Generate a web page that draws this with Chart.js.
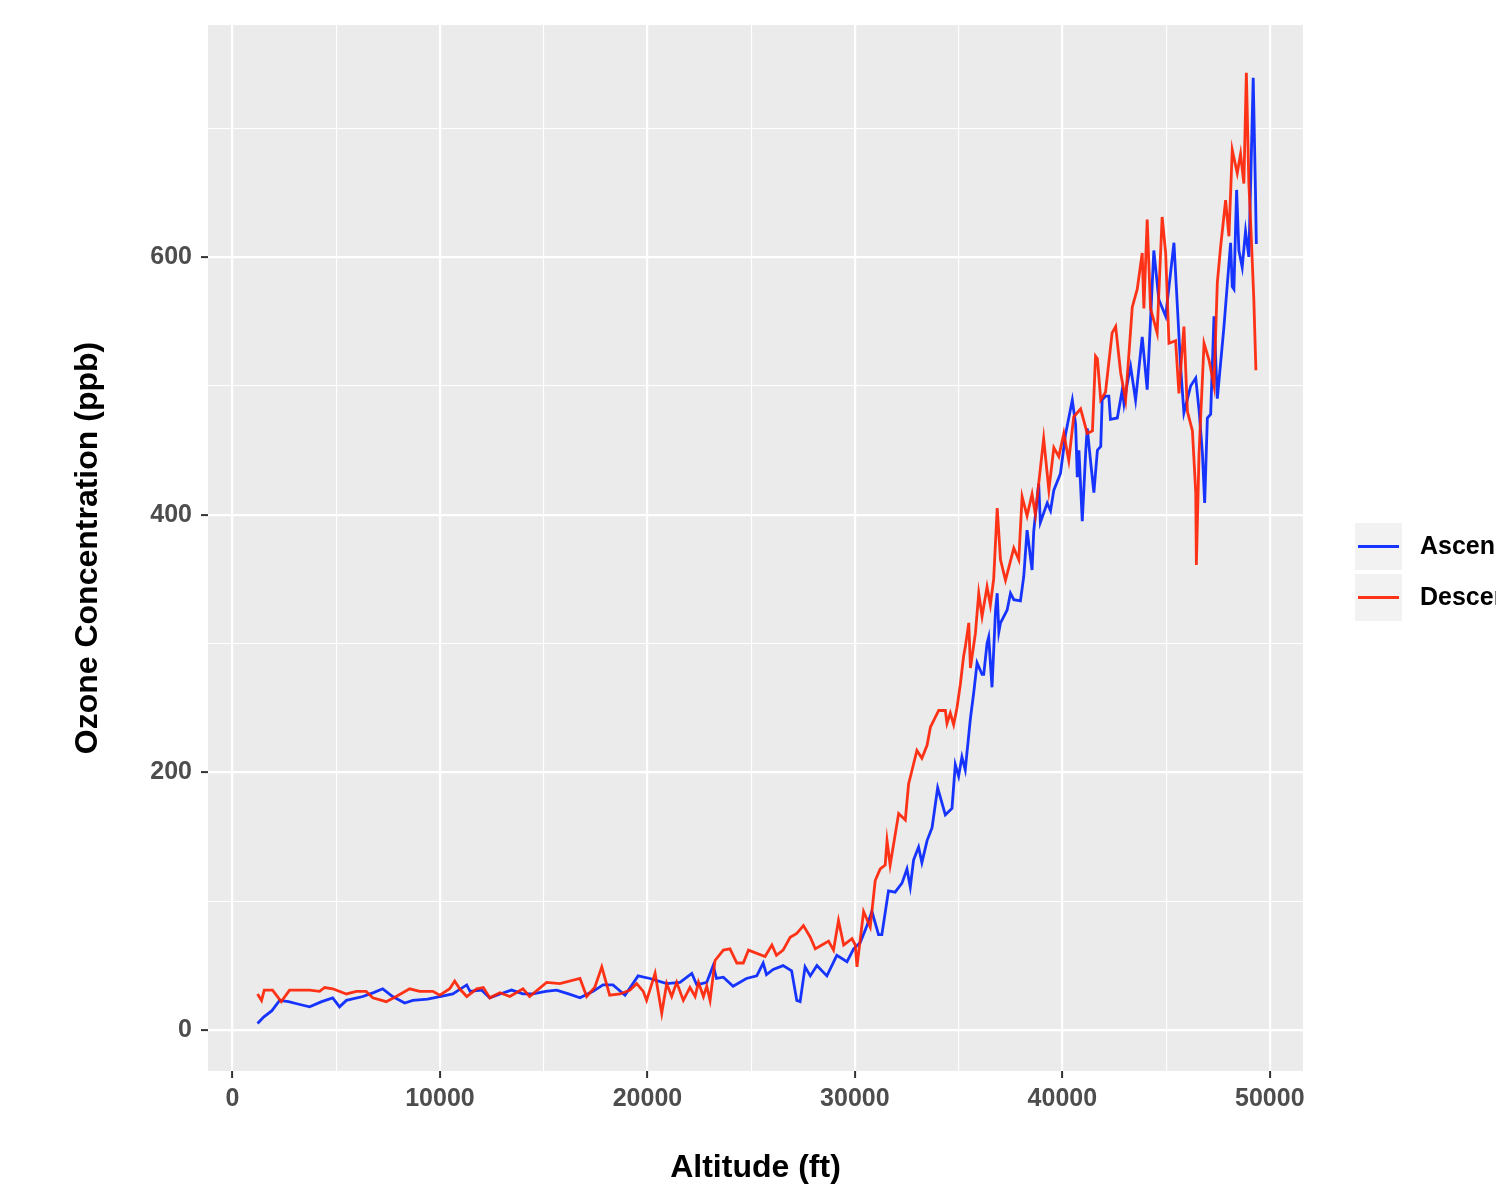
<!DOCTYPE html>
<html>
<head>
<meta charset="utf-8">
<script src="https://cdn.jsdelivr.net/npm/chart.js@4/dist/chart.umd.min.js"></script>
<style>
html,body{margin:0;padding:0;background:#ffffff;}
#wrap{width:1496px;height:1184px;overflow:hidden;}
canvas{display:block;}
</style>
</head>
<body>
<div id="wrap"><canvas id="c" width="1496" height="1184"></canvas></div>
<script>
// ---- data ----
const seriesNames = ["Ascending", "Descending"];
const xTitle = "Altitude (ft)";
const yTitle = "Ozone Concentration (ppb)";
const xMajorTicks = [0, 10000, 20000, 30000, 40000, 50000];
const xMinorTicks = [5000, 15000, 25000, 35000, 45000];
const yMajorTicks = [0, 200, 400, 600];
const yMinorTicks = [100, 300, 500, 700];

const altAsc = [1206,1500,1900,2270,2700,3200,3716,4300,4830,5160,5490,6280,6800,7240,7720,8300,8690,9400,9990,10620,11290,11450,12000,12400,12900,13450,14000,14480,15100,15620,16200,16750,17380,17860,18340,18920,19550,20120,20930,21570,22140,22380,22860,23170,23330,23660,24130,24770,25270,25580,25740,26060,26540,26950,27200,27360,27600,27850,28170,28650,29130,29620,29940,30260,30580,30820,31140,31300,31620,31940,32270,32510,32670,32830,33070,33230,33480,33720,33990,34360,34680,34840,35000,35160,35320,35570,35730,35890,36050,36130,36210,36370,36450,36610,36780,36860,36940,37020,37340,37500,37660,37980,38140,38300,38540,38620,38860,38940,39270,39430,39590,39910,40150,40480,40640,40720,40800,40960,41130,41200,41370,41520,41690,41850,41920,42080,42240,42320,42650,42890,42970,43130,43290,43530,43850,44090,44410,44650,44980,45380,45700,45860,46190,46430,46590,46750,46860,46990,47150,47310,47470,47790,48110,48190,48270,48400,48510,48670,48830,48990,49200,49310,49350];
const ozAsc = [5,10,15,23,22,20,18,22,25,18,23,26,29,32,26,21,23,24,26,28,35,30,31,25,28,31,28,28,30,31,28,25,30,35,35,27,42,40,36,37,44,35,37,50,40,41,34,40,42,52,43,47,50,46,23,22,49,42,50,42,58,53,63,68,81,92,74,74,108,107,114,125,111,132,142,130,147,157,188,167,172,206,197,212,202,242,262,285,279,276,276,300,305,266,326,339,309,316,326,339,334,333,352,388,357,387,424,394,409,403,419,432,462,489,470,429,450,395,450,467,440,417,450,453,489,492,492,474,475,497,486,502,515,489,538,497,605,567,554,611,515,479,500,506,481,448,409,475,478,554,490,546,611,577,575,652,605,592,620,600,739,650,610];

const altDesc = [1206,1400,1530,1930,2350,2750,3716,4200,4440,4830,5490,5970,6440,6760,7410,7890,8540,9020,9660,9990,10470,10710,10950,11290,11770,12090,12400,12890,13370,14000,14320,15140,15780,16750,17070,17460,17800,18180,18690,19160,19480,19800,19960,20370,20690,20930,21170,21410,21730,22050,22300,22460,22700,22860,23020,23260,23660,23980,24310,24620,24870,25670,26000,26220,26540,26880,27200,27520,27850,28090,28410,28730,28970,29210,29460,29860,30020,30100,30420,30740,30980,31220,31460,31550,31700,32110,32430,32590,32990,33230,33480,33640,34040,34360,34440,34600,34760,34920,35080,35240,35320,35490,35570,35650,35810,35970,36130,36370,36530,36690,36860,37020,37260,37660,37900,38060,38300,38540,38700,38860,39100,39350,39590,39830,40070,40310,40550,40880,41200,41450,41600,41690,41850,42080,42400,42570,42810,43050,43370,43610,43850,43930,44090,44250,44570,44810,44980,45140,45460,45620,45860,46030,46270,46430,46460,46590,46830,47070,47310,47470,47630,47870,48030,48190,48430,48590,48750,48870,48990,49100,49230,49330];
const ozDesc = [28,23,31,31,22,31,31,30,33,32,28,30,30,25,22,26,32,30,30,27,32,38,32,26,32,33,25,29,26,32,26,37,36,40,26,33,49,27,28,31,36,30,23,44,13,36,26,37,23,33,26,37,26,34,23,54,62,63,52,52,62,57,66,58,62,72,75,81,72,63,66,69,62,85,66,71,66,49,92,80,116,125,128,147,128,168,163,191,217,211,221,235,248,248,238,246,237,250,268,290,297,316,281,290,308,339,321,344,330,350,405,365,349,374,365,414,399,416,400,424,459,419,452,445,463,442,476,482,463,465,523,521,489,495,541,546,510,489,561,575,603,560,629,560,541,631,603,533,535,494,546,480,465,417,361,448,533,520,500,580,608,644,616,683,665,680,657,743,657,618,567,512];

// ---- styles ----
const FONT = "'Liberation Sans', Arial, Helvetica, sans-serif";
const PANEL_BG = "#EBEBEB";
const colAsc = "rgba(8,40,255,0.94)";
const colDesc = "rgba(255,30,0,0.9)";

const toXY = (xs, ys) => xs.map((x, i) => ({x: x, y: ys[i]}));

const panelBg = {
  id: 'panelBg',
  beforeDraw(chart) {
    const {ctx, chartArea: a} = chart;
    ctx.save();
    ctx.fillStyle = PANEL_BG;
    ctx.fillRect(a.left, a.top, a.right - a.left, a.bottom - a.top);
    ctx.restore();
  }
};

const ggLegend = {
  id: 'ggLegend',
  afterDraw(chart) {
    const ctx = chart.ctx;
    const cols = [colAsc, colDesc];
    const keyX = 1355, keyW = 47, keyH = 47;
    const keyY = [523, 574];
    ctx.save();
    seriesNames.forEach((name, i) => {
      ctx.fillStyle = "#F2F2F2";
      ctx.fillRect(keyX, keyY[i], keyW, keyH);
      ctx.strokeStyle = cols[i];
      ctx.lineWidth = 3;
      ctx.beginPath();
      const cy = keyY[i] + keyH / 2;
      ctx.moveTo(keyX + 3, cy);
      ctx.lineTo(keyX + keyW - 3, cy);
      ctx.stroke();
      ctx.fillStyle = "#000000";
      ctx.font = "bold 25px " + FONT;
      ctx.textAlign = "left";
      ctx.textBaseline = "middle";
      ctx.fillText(name, 1420, cy + 1);
    });
    ctx.restore();
  }
};

const xAll = xMajorTicks.concat(xMinorTicks).sort((a, b) => a - b);
const yAll = yMajorTicks.concat(yMinorTicks).sort((a, b) => a - b);

new Chart(document.getElementById('c'), {
  type: 'line',
  data: {
    datasets: [
      {label: seriesNames[0], data: toXY(altAsc, ozAsc), borderColor: colAsc, borderWidth: 2.8, pointRadius: 0, tension: 0, order: 2},
      {label: seriesNames[1], data: toXY(altDesc, ozDesc), borderColor: colDesc, borderWidth: 2.8, pointRadius: 0, tension: 0, order: 1}
    ]
  },
  options: {
    responsive: false,
    animation: false,
    devicePixelRatio: 1,
    layout: {padding: {top: 25, right: 193, left: 0, bottom: 0}},
    plugins: {legend: {display: false}, tooltip: {enabled: false}},
    scales: {
      x: {
        type: 'linear',
        min: -1181,
        max: 51600,
        afterBuildTicks: (s) => { s.ticks = xAll.map(v => ({value: v})); },
        afterFit: (s) => { s.height = 113; },
        border: {display: false},
        grid: {
          color: '#FFFFFF',
          lineWidth: (c) => xMajorTicks.includes(c.tick && c.tick.value) ? 2.2 : 1.1,
          tickColor: (c) => xMajorTicks.includes(c.tick && c.tick.value) ? '#333333' : 'rgba(0,0,0,0)',
          tickLength: 7,
          tickWidth: 2
        },
        ticks: {
          autoSkip: false,
          maxRotation: 0,
          padding: 6,
          color: '#4D4D4D',
          font: {family: FONT, size: 25, weight: 'bold'},
          callback: (v) => xMajorTicks.includes(v) ? String(v) : ''
        },
        title: {
          display: true,
          text: xTitle,
          color: '#000000',
          font: {family: FONT, size: 32, weight: 'bold', lineHeight: 1},
          padding: {top: 0, bottom: 0}
        }
      },
      y: {
        type: 'linear',
        min: -31.8,
        max: 780,
        afterBuildTicks: (s) => { s.ticks = yAll.map(v => ({value: v})); },
        afterFit: (s) => { s.width = 208; },
        border: {display: false},
        grid: {
          color: '#FFFFFF',
          lineWidth: (c) => yMajorTicks.includes(c.tick && c.tick.value) ? 2.2 : 1.1,
          tickColor: (c) => yMajorTicks.includes(c.tick && c.tick.value) ? '#333333' : 'rgba(0,0,0,0)',
          tickLength: 7,
          tickWidth: 2
        },
        ticks: {
          autoSkip: false,
          padding: 9,
          color: '#4D4D4D',
          font: {family: FONT, size: 25, weight: 'bold'},
          callback: (v) => yMajorTicks.includes(v) ? String(v) : ''
        },
        title: {
          display: true,
          text: yTitle,
          color: '#000000',
          font: {family: FONT, size: 32, weight: 'bold', lineHeight: 1},
          padding: {top: 72, bottom: 0}
        }
      }
    }
  },
  plugins: [panelBg, ggLegend]
});
</script>
</body>
</html>
